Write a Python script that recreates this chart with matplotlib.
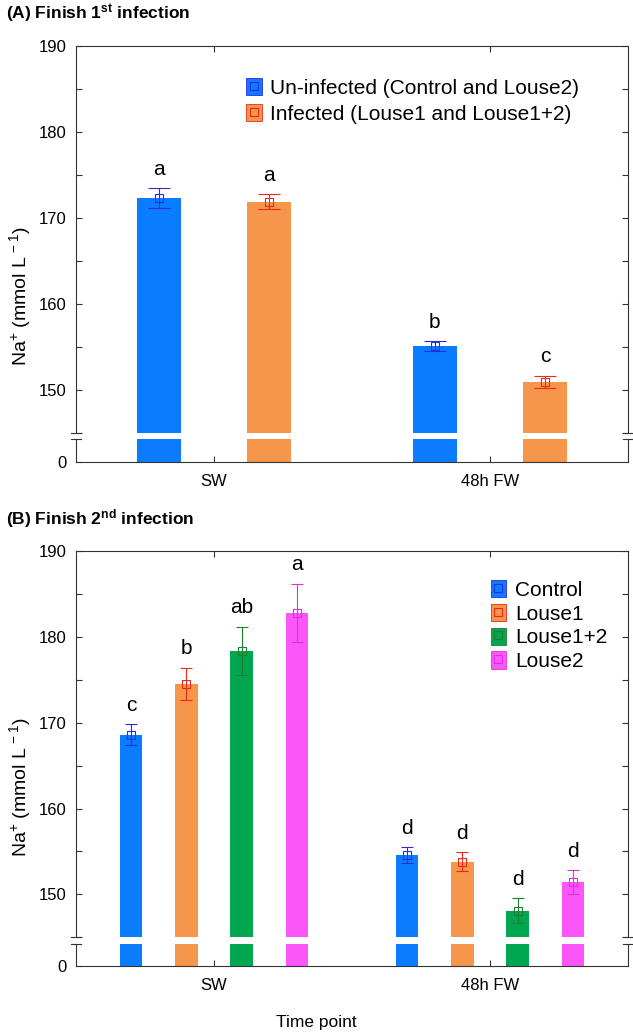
import matplotlib
matplotlib.use('Agg')
import matplotlib.pyplot as plt
from matplotlib.patches import Patch
from matplotlib.lines import Line2D
from matplotlib.legend_handler import HandlerTuple
from matplotlib.ticker import MultipleLocator
import numpy as np

plt.rcParams['font.family'] = ['Liberation Sans', 'DejaVu Sans']
plt.rcParams['mathtext.fontset'] = 'custom'
plt.rcParams['mathtext.rm'] = 'Liberation Sans'
plt.rcParams['mathtext.it'] = 'Liberation Sans:italic'
plt.rcParams['mathtext.bf'] = 'Liberation Sans:bold'

# ---------------- data ----------------
time_points = ['SW', '48h FW']

a_groups = ['Un-infected (Control and Louse2)', 'Infected (Louse1 and Louse1+2)']
a_means = [[172.3, 155.1], [171.9, 150.9]]
a_errs = [[1.2, 0.55], [0.9, 0.75]]
a_letters = [['a', 'b'], ['a', 'c']]

b_groups = ['Control', 'Louse1', 'Louse1+2', 'Louse2']
b_means = [[168.6, 154.6], [174.5, 153.8], [178.4, 148.1], [182.8, 151.4]]
b_errs = [[1.2, 0.9], [1.9, 1.1], [2.8, 1.45], [3.4, 1.4]]
b_letters = [['c', 'd'], ['b', 'd'], ['ab', 'd'], ['a', 'd']]

# ---------------- style ----------------
BLUE, ORANGE, GREEN, PINK = '#0A7CFF', '#F5964A', '#00A650', '#FC55F8'
E_BLUE, E_ORANGE, E_GREEN, E_PINK = '#2A2AE0', '#E82A1E', '#1E7F2C', '#DD30DD'
AXC = '#333333'

fig = plt.figure(figsize=(6.33, 10.33), dpi=100)
W, H = 633.0, 1033.0


def rect(left, top, right, bottom):
    return [left / W, 1 - bottom / H, (right - left) / W, (bottom - top) / H]


def panel(up_rect, lo_rect, groups, means, errs, letters, colors, ecolors,
          offsets, width, capsize, leg_anchor, leg_spacing):
    ax_up = fig.add_axes(up_rect)
    ax_lo = fig.add_axes(lo_rect)
    x = np.arange(len(time_points))
    for i, g in enumerate(groups):
        xs = x + offsets[i]
        for ax in (ax_up, ax_lo):
            ax.bar(xs, means[i], width=width, color=colors[i], zorder=2,
                   linewidth=0)
        ax_up.errorbar(xs, means[i], yerr=errs[i], fmt='s', mfc='none',
                       mec=ecolors[i], ecolor=ecolors[i], ms=5.5, mew=0.8,
                       elinewidth=0.8, capsize=capsize, capthick=0.8, zorder=3)
        for j in range(len(time_points)):
            ax_up.annotate(letters[i][j], xy=(xs[j], means[i][j] + errs[i][j]),
                           xytext=(0, 13.5), textcoords='offset points',
                           ha='center', va='center', fontsize=15)
    for ax in (ax_up, ax_lo):
        ax.set_xlim(-0.5, 1.5)
        ax.set_xticks(x)
        for s in ax.spines.values():
            s.set_color(AXC)
            s.set_linewidth(0.8)
    ax_up.set_ylim(145, 190)
    ax_up.set_yticks([150, 160, 170, 180, 190])
    ax_up.yaxis.set_minor_locator(MultipleLocator(5))
    ax_up.tick_params(which='both', direction='in', length=4, width=0.8,
                      color=AXC, left=True, right=True, top=True,
                      bottom=False, labelbottom=False, labelsize=12, pad=7)
    ax_up.spines['bottom'].set_visible(False)
    ax_lo.set_ylim(0, 2.6)
    ax_lo.set_yticks([0])
    ax_lo.set_xticklabels(time_points)
    ax_lo.tick_params(direction='in', length=4, width=0.8, color=AXC,
                      left=True, right=False, top=False, bottom=True,
                      labelsize=12, pad=7)
    ax_lo.tick_params(axis='x', pad=9)
    ax_lo.spines['top'].set_visible(False)
    d = 5.0 / 552
    for ax, yy in ((ax_up, 0), (ax_lo, 1)):
        for xx in (0, 1):
            ax.plot([xx - d, xx + d], [yy, yy], transform=ax.transAxes,
                    color=AXC, lw=0.8, clip_on=False, zorder=5)
    handles = [(Patch(facecolor=c, edgecolor=ec, linewidth=0.6),
                Line2D([], [], marker='s', mfc='none', mec=ec, ls='none',
                       ms=5.5, mew=0.8))
               for c, ec in zip(colors, ecolors)]
    ax_up.legend(handles, groups, loc='upper left', bbox_to_anchor=leg_anchor,
                 frameon=False, borderpad=0, borderaxespad=0,
                 handlelength=0.75, handleheight=0.9, handletextpad=0.42,
                 labelspacing=leg_spacing, fontsize=15,
                 handler_map={tuple: HandlerTuple(ndivide=1, pad=0)})
    return ax_up, ax_lo


# Panel A
panel(rect(76, 46, 628, 432.7), rect(76, 439.3, 628, 461.7),
      a_groups, a_means, a_errs, a_letters, [BLUE, ORANGE], [E_BLUE, E_ORANGE],
      [-0.2, 0.2], 0.16, 8, (0.308, 0.9173), 0.29)

# Panel B
panel(rect(76, 551, 628, 937.3), rect(76, 944, 628, 965.7),
      b_groups, b_means, b_errs, b_letters, [BLUE, ORANGE, GREEN, PINK],
      [E_BLUE, E_ORANGE, E_GREEN, E_PINK],
      [-0.3, -0.1, 0.1, 0.3], 0.081, 4.5, (0.751, 0.925), 0.19)

fig.text(6 / W, 1 - 14 / H, r'(A) Finish 1$^{\mathbf{st}}$ infection',
         fontsize=12.5, fontweight='bold', va='center', ha='left')
fig.text(6 / W, 1 - 519 / H, r'(B) Finish 2$^{\mathbf{nd}}$ infection',
         fontsize=12.5, fontweight='bold', va='center', ha='left')
ylab = r'Na$^{+}$ (mmol L$^{\,-1}$)'
fig.text(20 / W, 1 - 296 / H, ylab, rotation=90, fontsize=14,
         va='center', ha='center')
fig.text(20 / W, 1 - 787 / H, ylab, rotation=90, fontsize=14,
         va='center', ha='center')
fig.text(0.5, 1 - 1022 / H, 'Time point', fontsize=12.5, ha='center',
         va='center')

fig.savefig('out.png', dpi=100)
